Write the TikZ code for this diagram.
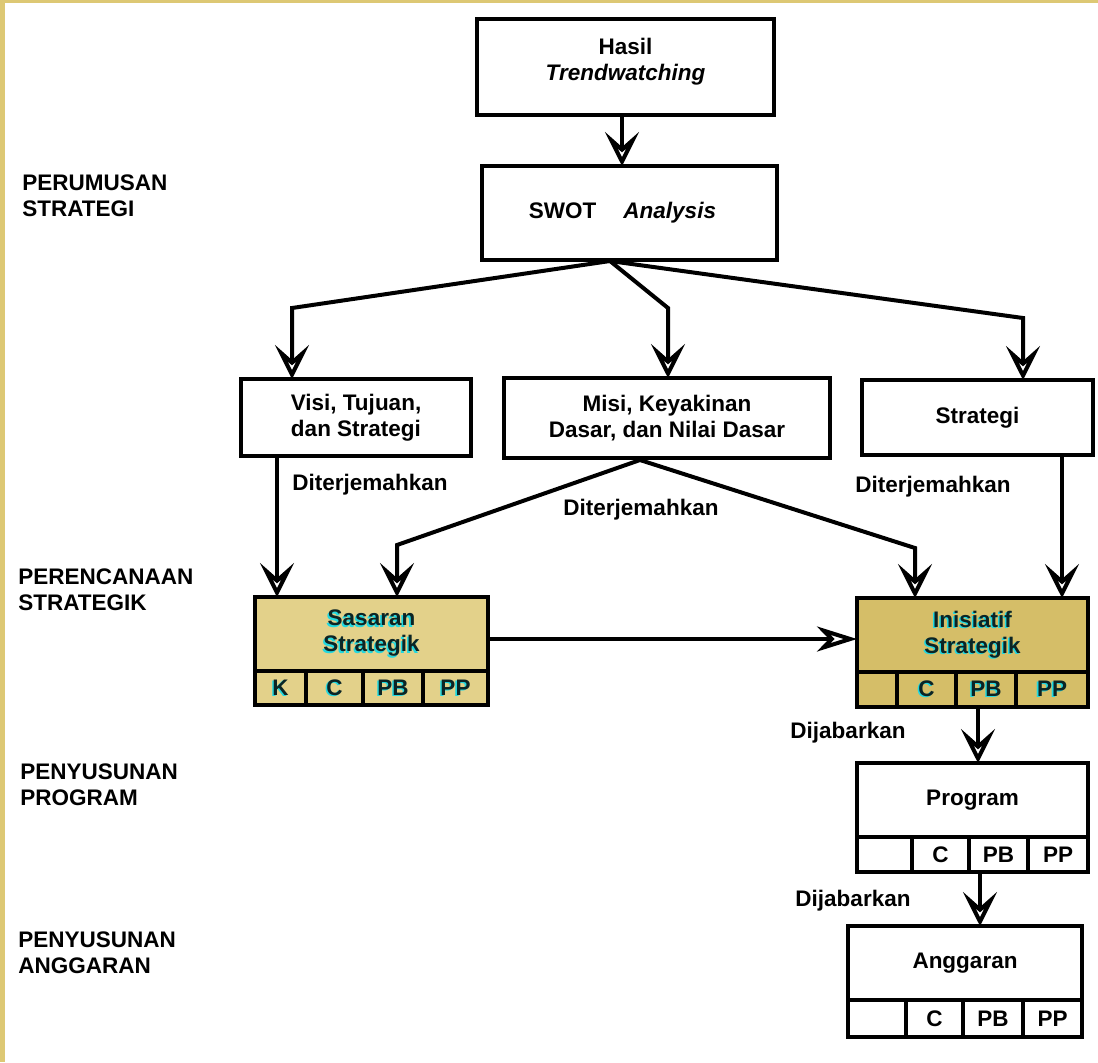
\documentclass[tikz,border=0pt]{standalone}
\usepackage{fontspec}
\setmainfont{Liberation Sans}
\usetikzlibrary{positioning,arrows.meta}

\definecolor{goldband}{HTML}{DDC874}
\definecolor{goldlight}{HTML}{E3D18A}
\definecolor{golddark}{HTML}{D5BE68}
\definecolor{inkteal}{HTML}{0C2424}
\definecolor{glowcyan}{HTML}{22D8E0}

\newcommand{\glow}[1]{\leavevmode\rlap{\kern-0.8pt\raisebox{-0.7pt}{\textcolor{glowcyan}{#1}}}\textcolor{inkteal}{#1}}

\begin{document}
\begin{tikzpicture}[x=0.5pt, y=-0.5pt, font=\bfseries\fontsize{11.25}{13}\selectfont]

        % Define styles
        \tikzstyle{box} = [rectangle, draw, line width=2pt, fill=white, align=center, inner sep=0pt, outer sep=0pt]
        \tikzstyle{cell} = [box, anchor=north west]
        \tikzstyle{stage} = [anchor=west, align=left, inner sep=0pt]
        \tikzstyle{arr} = [line width=2pt, -{Stealth[length=17pt, width=17pt, inset=7.5pt, line width=2pt, fill=white]}]
        \tikzstyle{arrlong} = [line width=2pt, -{Stealth[length=20pt, width=12.5pt, inset=6pt, line width=2pt, fill=white]}]

        \useasboundingbox (0,0) rectangle (1098,1062);

        % Gold frame
        \fill[goldband] (0,0) rectangle (5,1062);
        \fill[goldband] (0,0) rectangle (1098,3);

        % Stage labels
        \node[stage] (perumusan) at (22,196) {PERUMUSAN\\STRATEGI};
        \node[stage] (perencanaan) at (18,590) {PERENCANAAN\\STRATEGIK};
        \node[stage] (program) at (20,785) {PENYUSUNAN\\PROGRAM};
        \node[stage] (anggaran) at (18,953) {PENYUSUNAN\\ANGGARAN};

        % Top boxes
        \node[box, minimum width=148.5pt, minimum height=48pt, text depth=8pt] (hasil) at (625.5,67) {Hasil\\\textit{Trendwatching}};
        \node[box, minimum width=147.5pt, minimum height=47pt] (swot) at (629.5,213) {SWOT\hspace{1.2em}\textit{Analysis}\hspace{7pt}};

        % Second row
        \node[box, minimum width=115pt, minimum height=38.5pt] (visi) at (356,417.5) {Visi, Tujuan,\\dan Strategi};
        \node[box, minimum width=163pt, minimum height=40pt] (misi) at (667,418) {Misi, Keyakinan\\Dasar, dan Nilai Dasar};
        \node[box, minimum width=115.5pt, minimum height=37.5pt] (strategi) at (977.5,417.5) {Strategi};

        % Sasaran Strategik
        \node[box, fill=goldlight, minimum width=116.5pt, minimum height=37pt] (sasaran) at (371.5,634) {\glow{Sasaran}\\\glow{Strategik}};
        \foreach \i/\x/\w/\t in {1/255/25.5/K, 2/306/28.5/C, 3/363/30/PB, 4/423/32.5/PP}
            \node[cell, fill=goldlight, minimum width=\w pt, minimum height=17pt] (sas\i) at (\x,671) {\glow{\t}};

        % Inisiatif Strategik
        \node[box, fill=golddark, minimum width=115.5pt, minimum height=37pt] (inisiatif) at (972.5,635) {\glow{Inisiatif}\\\glow{Strategik}};
        \foreach \i/\x/\w/\t in {1/857/20/, 2/897/29.5/C, 3/956/30/PB, 4/1016/36/PP}
            \node[cell, fill=golddark, minimum width=\w pt, minimum height=17.5pt] (ini\i) at (\x,672) {\glow{\t}};

        % Program
        \node[box, minimum width=115.5pt, minimum height=37pt] (prog) at (972.5,800) {Program};
        \foreach \i/\x/\w/\t in {1/857/27.5/, 2/912/28.5/C, 3/969/29.5/PB, 4/1028/30/PP}
            \node[cell, minimum width=\w pt, minimum height=17.5pt] (prog\i) at (\x,837) {\t};

        % Anggaran
        \node[box, minimum width=117pt, minimum height=37pt] (angg) at (965,963) {Anggaran};
        \foreach \i/\x/\w/\t in {1/848/29/, 2/906/28.5/C, 3/963/30/PB, 4/1023/29.5/PP}
            \node[cell, minimum width=\w pt, minimum height=18.5pt] (angg\i) at (\x,1000) {\t};

        % Connector labels
        \node (dit1) at (370,485) {Diterjemahkan};
        \node (dit2) at (641,510) {Diterjemahkan};
        \node (dit3) at (933,487) {Diterjemahkan};
        \node (dij1) at (848,733) {Dijabarkan};
        \node (dij2) at (853,901) {Dijabarkan};

        % Bend points
        \coordinate (swotfoot) at (610,261);
        \coordinate (bendL) at (292,308);
        \coordinate (bendM) at (668,308);
        \coordinate (bendR) at (1023,318);
        \coordinate (misifoot) at (640,460);
        \coordinate (bendSas) at (397,545);
        \coordinate (bendIni) at (915,548);

        % Arrows
        \draw[arr] ([xshift=-1.75pt]hasil.south) -- ([xshift=-1.75pt]hasil.south |- swot.north);
        \draw[arr] (swotfoot) -- (bendL) -- (bendL |- visi.north);
        \draw[arr] (swotfoot) -- (bendM) -- (bendM |- misi.north);
        \draw[arr] (swotfoot) -- (bendR) -- (bendR |- strategi.north);
        \draw[arr] ([xshift=-39.5pt]visi.south) -- ([xshift=-39.5pt]visi.south |- sasaran.north);
        \draw[arr] (misifoot) -- (bendSas) -- (bendSas |- sasaran.north);
        \draw[arr] (misifoot) -- (bendIni) -- (bendIni |- inisiatif.north);
        \draw[arr] ([xshift=42.25pt]strategi.south) -- ([xshift=42.25pt]strategi.south |- inisiatif.north);
        \draw[arrlong] ([yshift=-2.5pt]sasaran.east) -- ([yshift=-2.5pt]sasaran.east -| inisiatif.west);
        \draw[arr] ([xshift=2.75pt]prog.north |- ini3.south) -- ([xshift=2.75pt]prog.north);
        \draw[arr] ([xshift=7.5pt]angg.north |- prog3.south) -- ([xshift=7.5pt]angg.north);

\end{tikzpicture}
\end{document}
